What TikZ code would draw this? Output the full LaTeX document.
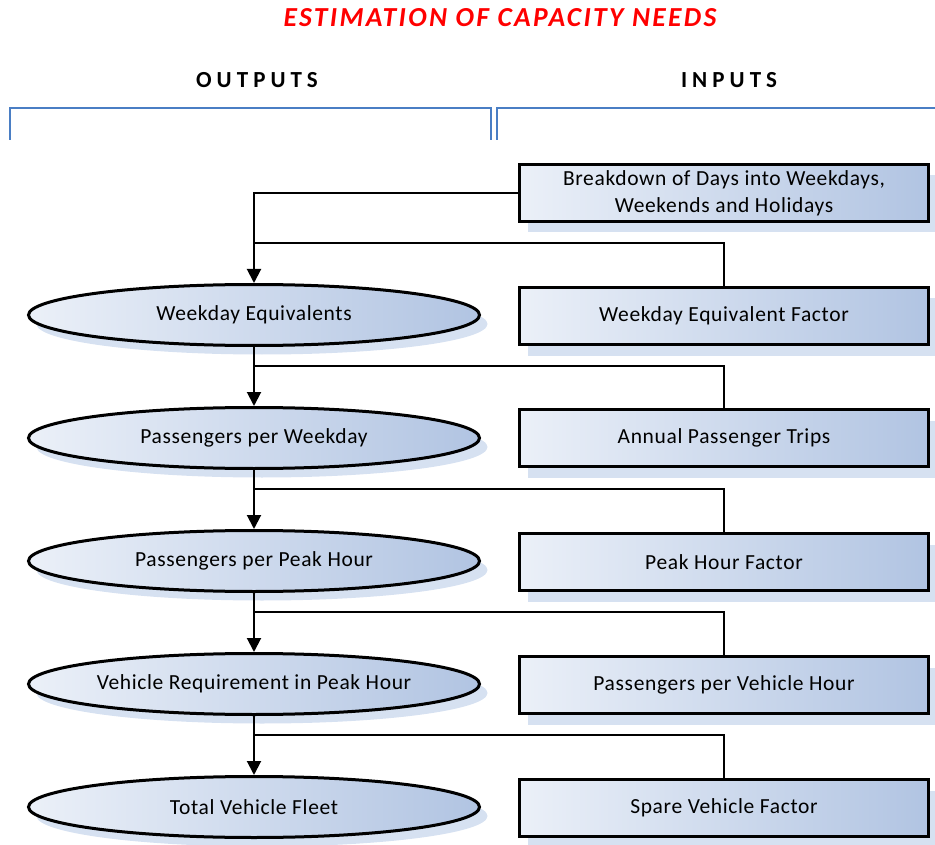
\documentclass[tikz,border=0pt]{standalone}
\usepackage{fontspec}
\setmainfont[LetterSpace=3]{Carlito}
\newfontfamily\spacedfont[LetterSpace=22]{Carlito}
\newfontfamily\titlefont[LetterSpace=8.5]{Carlito}
\usetikzlibrary{shapes.geometric,shadows,arrows.meta}

\definecolor{boxleft}{HTML}{EBF0F8}
\definecolor{boxright}{HTML}{B1C4E2}
\definecolor{shadowblue}{HTML}{D6E1F1}
\definecolor{bracketblue}{HTML}{4A7EC4}

\begin{document}
\begin{tikzpicture}[x=1pt,y=-1pt,
        inbox/.style={draw,line width=3pt,minimum width=409pt,minimum height=57pt,
            left color=boxleft,right color=boxright,align=center,
            drop shadow={shadow xshift=8pt,shadow yshift=-11pt,fill=shadowblue,opacity=1},
            font=\fontsize{21.5}{27}\selectfont},
        outell/.style={ellipse,draw,line width=3pt,minimum width=451pt,minimum height=61pt,
            left color=boxleft,right color=boxright,inner sep=0pt,
            drop shadow={shadow xshift=8pt,shadow yshift=-9pt,fill=shadowblue,opacity=1},
            font=\fontsize{21.5}{27}\selectfont},
        link/.style={line width=2pt},
        tip/.style={-{Triangle[length=14pt,width=14pt]}},
        bracket/.style={draw=bracketblue,line width=1.5pt},
        heading/.style={font=\spacedfont\bfseries\fontsize{23}{26}\selectfont}]

        \useasboundingbox (0,0) rectangle (935,845) ;

        \node [text=red,font=\titlefont\bfseries\itshape\fontsize{27.5}{32}\selectfont] (title) at (500,18) {ESTIMATION OF CAPACITY NEEDS} ;
        \node [heading] (outputs) at (257,80) {OUTPUTS} ;
        \node [heading] (inputs) at (729,80) {INPUTS} ;

        \draw [bracket] (10,140) -- (10,108) -- (491,108) -- (491,140) ;
        \draw [bracket] (497,140) -- (497,108) -- (935,108) ;

        \node [inbox] (days) at (724,193) {Breakdown of Days into Weekdays,\\Weekends and Holidays} ;
        \node [inbox] (wdfac) at (724,316) {Weekday Equivalent Factor} ;
        \node [inbox] (trips) at (724,438) {Annual Passenger Trips} ;
        \node [inbox] (peakfac) at (724,562) {Peak Hour Factor} ;
        \node [inbox] (pvh) at (724,685) {Passengers per Vehicle Hour} ;
        \node [inbox] (spare) at (724,808) {Spare Vehicle Factor} ;

        \node [outell] (wdeq) at (254,315) {Weekday Equivalents} ;
        \node [outell] (ppw) at (254,438) {Passengers per Weekday} ;
        \node [outell] (pph) at (254,561) {Passengers per Peak Hour} ;
        \node [outell] (vreq) at (254,684) {Vehicle Requirement in Peak Hour} ;
        \node [outell] (fleet) at (254,807) {Total Vehicle Fleet} ;

        \coordinate (j1) at (254,243) ;
        \coordinate (j2) at (254,366) ;
        \coordinate (j3) at (254,489) ;
        \coordinate (j4) at (254,612) ;
        \coordinate (j5) at (254,735) ;

        \draw [link,tip] (days.west) -| (wdeq.north) ;
        \draw [link] (wdfac.north) |- (j1) ;
        \draw [link,tip] (wdeq.south) -- (ppw.north) ;
        \draw [link] (trips.north) |- (j2) ;
        \draw [link,tip] (ppw.south) -- (pph.north) ;
        \draw [link] (peakfac.north) |- (j3) ;
        \draw [link,tip] (pph.south) -- (vreq.north) ;
        \draw [link] (pvh.north) |- (j4) ;
        \draw [link,tip] (vreq.south) -- (fleet.north) ;
        \draw [link] (spare.north) |- (j5) ;

\end{tikzpicture}
\end{document}
